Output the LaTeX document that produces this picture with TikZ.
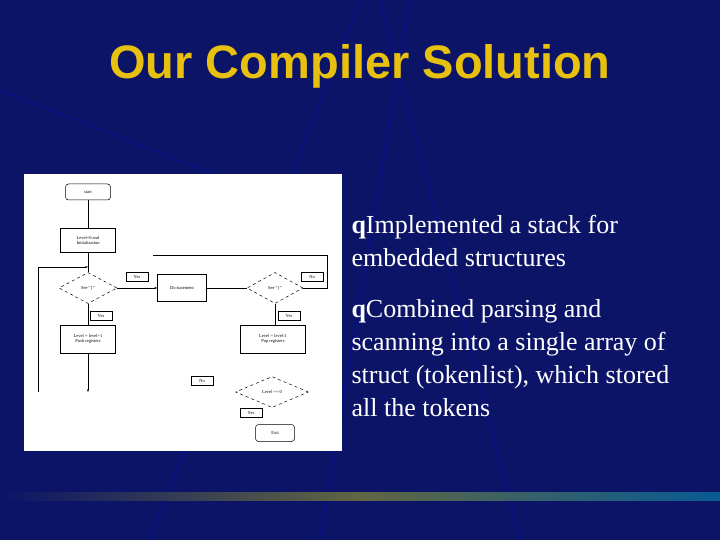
\documentclass[tikz,border=0pt]{standalone}
\usepackage{fontspec}
\setmainfont{Liberation Serif}
\newfontfamily\titlefont{Liberation Sans}
\usetikzlibrary{shapes.geometric,arrows.meta}
\definecolor{navy}{HTML}{0B1466}
\definecolor{ttl}{HTML}{E8C010}
\begin{document}
\begin{tikzpicture}[x=1pt,y=-1pt,
  fc/.style={draw=black,line width=0.5pt,fill=white,font=\fontsize{4.5}{5}\selectfont,align=center,inner sep=1pt},
  boxn/.style={fc,minimum width=#1,minimum height=24},
  dia/.style={fc,diamond,aspect=1.9,dashed,inner sep=0.5pt},
  lbl/.style={fc,minimum width=22,minimum height=9},
  ln/.style={line width=0.5pt,black},
  arr/.style={ln,-{Stealth[length=3pt]}},
  body/.style={text=white,font=\fontsize{26}{33}\selectfont,anchor=north west,align=left}]
\useasboundingbox (0,0) rectangle (720,540);
\fill[navy] (0,0) rectangle (720,540);
\foreach \a/\b in {150/-40, 320/10, 520/-20}{
  \draw[blue!35!navy,line width=3pt,opacity=0.4] (\a,540) -- (\b+400,0);}
\draw[blue!35!navy,line width=2pt,opacity=0.4] (0,90) -- (330,220);
\shade[left color=navy,right color=cyan!30!navy,middle color=yellow!35!navy] (0,492) rectangle (720,500);
\node[text=ttl,font=\titlefont\bfseries\fontsize{47}{50}\selectfont] (title) at (360,66) {Our Compiler Solution};
\fill[white] (24,174) rectangle (342,451);
% flowchart
\node[fc,rounded corners=3pt,minimum width=45,minimum height=16] (start) at (88,192) {start};
\node[boxn=55,align=left] (init) at (88,240) {Level=0 and\\Initialization};
\node[dia,minimum width=58,minimum height=31] (d1) at (88,288) {See ``\{''};
\node[lbl] (y1) at (137,277) {Yes};
\node[boxn=49,minimum height=27] (do) at (182,288) {Do statement};
\node[dia,minimum width=56,minimum height=31] (d2) at (275,288) {See ``\}''};
\node[lbl] (n1) at (312,277) {No};
\node[lbl] (y2) at (101,316) {Yes};
\node[boxn=55,minimum height=28] (push) at (88,339) {Level = level+1\\Push registers};
\node[lbl] (y3) at (289,316) {Yes};
\node[boxn=65,minimum height=28] (pop) at (273,339) {Level = level-1\\Pop registers};
\node[lbl] (n2) at (202,381) {No};
\node[dia,minimum width=73,minimum height=31] (d3) at (272,392) {Level == 0};
\node[lbl] (y4) at (251,413) {Yes};
\node[fc,rounded corners=3pt,minimum width=39,minimum height=17] (exit) at (275,433) {Exit};
\coordinate (a) at (88,392);
\coordinate (l1) at (38,392);
\coordinate (l2) at (38,267);
\coordinate (r1) at (327,288);
\coordinate (r2) at (327,255);
\coordinate (r3) at (153,255);
\draw[ln] (start) -- (init);
\draw[ln] (init) -- (d1);
\draw[arr] (d1.east) -- (do.west);
\draw[ln] (do.east) -- (d2.west);
\draw[ln] (d2.east) -- (r1) -- (r2) -- (r3);
\draw[ln] (d1.south) -- (push.north);
\draw[arr] (push.south) -- (a);
\draw[arr] (l1) -- (l2) -- (88,267);
\draw[ln] (d2.south) -- (d2.south |- pop.north);
% text
\node[body] (t1) at (348,212) {\textbf{q}Implemented a stack for\\embedded structures};
\node[body] (t2) at (348,296) {\textbf{q}Combined parsing and\\scanning into a single array of\\struct (tokenlist), which stored\\all the tokens};
\end{tikzpicture}
\end{document}
